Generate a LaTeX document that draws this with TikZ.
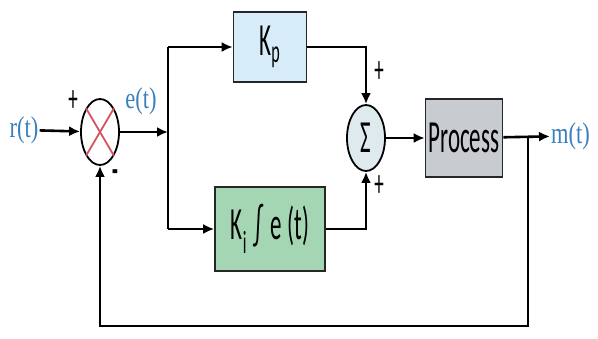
\documentclass[tikz,border=0pt]{standalone}
\usepackage{fontspec}
\setmainfont{Liberation Serif}
\newfontfamily\boxfont[FakeStretch=0.5]{Carlito}
\newfontfamily\sigfont[FakeStretch=0.75]{Liberation Serif}
\usetikzlibrary{arrows.meta, shapes.geometric, positioning}
\definecolor{sigblue}{RGB}{58,128,190}
\definecolor{crossred}{RGB}{212,84,96}
\definecolor{kpblue}{RGB}{214,236,248}
\definecolor{kigreen}{RGB}{164,214,180}
\definecolor{sumgray}{RGB}{222,234,238}
\definecolor{procgray}{RGB}{200,204,208}
\tikzstyle{block}=[draw=black!85, line width=1.6pt, inner sep=0pt, font=\fontsize{46}{48}\selectfont\boxfont]
\tikzstyle{junc}=[ellipse, draw, line width=1.8pt, minimum width=38pt, minimum height=66pt, inner sep=0pt]
\tikzstyle{sig}=[text=sigblue, inner sep=1pt, font=\fontsize{30}{32}\selectfont\sigfont]
\tikzstyle{sgn}=[inner sep=0pt, font=\fontsize{38}{40}\selectfont\boxfont]
\tikzstyle{wire}=[line width=2.6pt, -{Latex[length=11pt,width=10pt]}]
\tikzstyle{line}=[line width=2.6pt]

\begin{document}
\begin{tikzpicture}[x=1pt, y=-1pt]
    \useasboundingbox (0,0) rectangle (598,338);
    \coordinate (split) at (168,132);
    \coordinate (tap) at (528,138);
    \coordinate (low) at (528,326);
    \node[sig] (r) at (24,130) {r(t)};
    \node[junc, fill=white] (err) at (100,132) {};
    \draw[crossred, line width=1.8pt] (err.north east) -- (err.south west);
    \draw[crossred, line width=1.8pt] (err.north west) -- (err.south east);
    \node[sig] (e) at (141,101) {e(t)};
    \node[block, fill=kpblue, minimum width=73pt, minimum height=70pt] (kp) at (270,47) {K\textsubscript{p}};
    \node[block, fill=kigreen, minimum width=110pt, minimum height=84pt] (ki) at (270,229) {K\textsubscript{i}\,∫\,e (t)};
    \node[junc, fill=sumgray, font=\fontsize{46}{48}\selectfont\boxfont] (sum) at (366,138) {Σ};
    \node[block, fill=procgray, minimum width=77pt, minimum height=78pt] (proc) at (464,138) {Process};
    \node[sig, anchor=west] (m) at (550,136) {m(t)};
    \node[sgn] (pr) at (73,101) {+};
    \node[sgn, font=\fontsize{38}{40}\selectfont\boxfont\bfseries] (mi) at (115,176) {-};
    \node[sgn] (pk) at (379,72) {+};
    \node[sgn] (pi) at (379,186) {+};
    \draw[wire] (r) -- (err);
    \draw[wire] (err) -- (split);
    \draw[line] (split |- kp) -- (split |- ki);
    \draw[wire] (split |- kp) -- (kp);
    \draw[wire] (split |- ki) -- (ki);
    \draw[wire] (kp) -| (sum);
    \draw[wire] (ki) -| (sum);
    \draw[wire] (sum) -- (proc);
    \draw[wire] (proc) -- (m);
    \draw[wire] (tap) -- (low) -| (err);
\end{tikzpicture}
\end{document}
